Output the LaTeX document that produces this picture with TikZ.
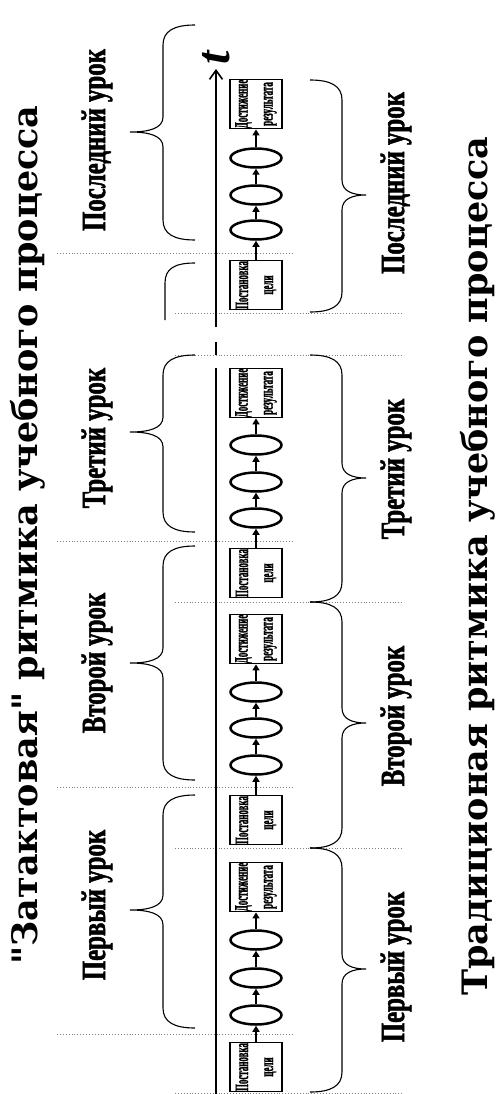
\documentclass[tikz,border=0pt]{standalone}
\usepackage{fontspec}
\setmainfont{Liberation Serif}
\newfontfamily\titlefont{DejaVu Serif}
\newfontfamily\lessonfont[FakeStretch=0.73,FakeBold=1.5]{Liberation Serif Bold}
\newfontfamily\boxfont[FakeStretch=0.47,FakeBold=1]{Liberation Serif Bold}
\usetikzlibrary{arrows.meta,shapes.geometric}
\tikzset{
  stagebox/.style={draw, line width=1.8pt, rectangle, rotate=90, minimum width=49pt, minimum height=52pt, inner sep=0pt, align=center, font=\boxfont\fontsize{19}{25}\selectfont},
  blob/.style={draw, ellipse, line width=2.5pt, minimum width=51pt, minimum height=19pt, inner sep=0pt},
  flowarrow/.style={line width=2.3pt, -{Triangle[length=6pt,width=7pt]}},
  axisline/.style={line width=1.8pt},
  sepline/.style={dotted, line width=0.9pt, gray},
  curly/.style={line width=1.1pt},
  lessonlabel/.style={rotate=90, inner sep=0pt, font=\lessonfont\fontsize{34}{36}\selectfont},
  titlelabel/.style={rotate=90, inner sep=0pt, font=\titlefont\bfseries\fontsize{35}{37}\selectfont},
  tlabel/.style={rotate=90, inner sep=0pt, font=\bfseries\itshape\fontsize{48}{50}\selectfont}
}
\newcommand\bracel[3]{%
  \draw[curly] (195,#1) .. controls (174,#1) and (163,{#1+6}) .. (163,{#1+20}) -- (163,{#2-15}) .. controls (163,{#2-4}) and (150,#2) .. (130,#2) .. controls (150,#2) and (163,{#2+4}) .. (163,{#2+15}) -- (163,{#3-20}) .. controls (163,{#3-6}) and (174,#3) .. (195,#3);}
\newcommand\bracer[3]{%
  \draw[curly] (310,#1) .. controls (331,#1) and (342,{#1+6}) .. (342,{#1+20}) -- (342,{#2-15}) .. controls (342,{#2-4}) and (352,#2) .. (366,#2) .. controls (352,#2) and (342,{#2+4}) .. (342,{#2+15}) -- (342,{#3-20}) .. controls (342,{#3-6}) and (331,#3) .. (310,#3);}
\begin{document}
\begin{tikzpicture}[x=1pt,y=-1pt]
\useasboundingbox[fill=white] (0,0) rectangle (496,1094);
% separators
\foreach \yy in {253,541,787,1034} \draw[sepline] (57,\yy) -- (292,\yy);
\foreach \yy in {313,355,602,848,1093} \draw[sepline] (175,\yy) -- (403,\yy);
% time axis
\coordinate (a0) at (216,1094);
\coordinate (a1) at (216,368);
\coordinate (a2) at (216,355);
\coordinate (a3) at (216,342);
\coordinate (a4) at (216,327);
\coordinate (a5) at (216,69);
\draw[axisline] (a0) -- (a1);
\draw[axisline] (a2) -- (a3);
\draw[axisline, -{Straight Barb[length=9pt,width=13pt,line width=1.6pt]}] (a4) -- (a5);
\node[tlabel] (t) at (216,58) {t};
% chains
\foreach \i/\p/\ea/\eb/\ec/\d in {1/1067/1015/978/940/887, 2/820/765/728/692/639, 3/573/518/482/445/393, 4/285/230/195/158/104}{
  \node[stagebox] (p\i) at (256,\p) {Постановка\\цели};
  \node[blob] (e\i a) at (256,\ea) {};
  \node[blob] (e\i b) at (256,\eb) {};
  \node[blob] (e\i c) at (256,\ec) {};
  \node[stagebox] (d\i) at (256,\d) {Достижение\\результата};
  \draw[flowarrow] (p\i) -- (e\i a);
  \draw[flowarrow] (e\i a) -- (e\i b);
  \draw[flowarrow] (e\i b) -- (e\i c);
  \draw[flowarrow] (e\i c) -- (d\i);
}
% left braces
\bracel{25}{132}{240}
\draw[curly] (195,263) .. controls (174,263) and (165,269) .. (165,283) -- (165,320);
\bracel{355}{432}{532}
\bracel{546}{663}{780}
\bracel{795}{910}{1028}
% right braces
\bracer{80}{195}{312}
\bracer{355}{478}{602}
\bracer{602}{723}{848}
\bracer{848}{969}{1092}
% lesson labels
\node[lessonlabel] (l4) at (97,140) {Последний урок};
\node[lessonlabel] (l3) at (97,438) {Третий урок};
\node[lessonlabel] (l2) at (97,663) {Второй урок};
\node[lessonlabel] (l1) at (97,905) {Первый урок};
\node[lessonlabel] (r4) at (396,183) {Последний урок};
\node[lessonlabel] (r3) at (396,469) {Третий урок};
\node[lessonlabel] (r2) at (396,716) {Второй урок};
\node[lessonlabel] (r1) at (396,967) {Первый урок};
% titles
\node[titlelabel] (tl) at (28,535) {"Затактовая" ритмика учебного процесса};
\node[titlelabel] (tr) at (478,566) {Традиционая ритмика учебного процесса};
\end{tikzpicture}
\end{document}
